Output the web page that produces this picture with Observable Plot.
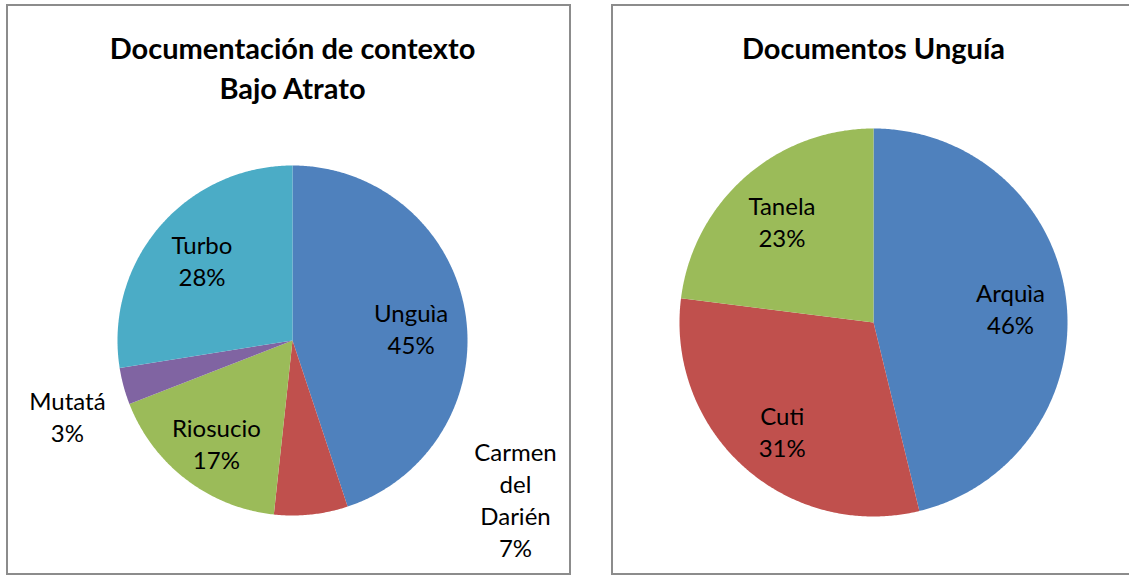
<!DOCTYPE html>
<html>
<head>
<meta charset="utf-8">
<script src="https://cdn.jsdelivr.net/npm/d3@7"></script>
<script src="https://cdn.jsdelivr.net/npm/@observablehq/plot@0.6"></script>
<style>
  html, body { margin: 0; padding: 0; background: #ffffff; }
  body { width: 1129px; height: 575px; position: relative; overflow: hidden; }
  .panel { position: absolute; box-sizing: border-box; border: 2px solid #8c8c8c; background: #ffffff; overflow: hidden; }
  .panel svg { display: block; }
</style>
</head>
<body>
<div id="left" class="panel"></div>
<div id="right" class="panel"></div>
<script>
// ---------- data ----------
const leftTitle = "Documentación de contexto\nBajo Atrato";
const leftCategories = ["Unguìa", "Carmen del Darién", "Riosucio", "Mutatá", "Turbo"];
const leftValues = [44.9, 6.8, 17.4, 3.4, 27.5];

const rightTitle = "Documentos Unguía";
const rightCategories = ["Arquìa", "Cuti", "Tanela"];
const rightValues = [46.2, 30.8, 23.0];

// ---------- styles / layout ----------
const palette = ["#4F81BD", "#C0504D", "#9BBB59", "#8064A2", "#4BACC6"];
const fontFamily = "Lato, 'Open Sans', sans-serif";
const labelSize = 24, titleSize = 29;

// label placement: [angle in degrees clockwise from 12 o'clock (null = mid-angle), radius factor]
const leftLabelPlacement = [[85.4, 0.68], [125.8, 1.571], [216, 0.74], [250.8, 1.362], [null, 0.68]];
const rightLabelPlacement = [[85.0, 0.709], [219.5, 0.74], [317.1, 0.693]];

const layouts = [
  {id: "left", box: {left: 6, top: 4, width: 565, height: 571}, cx: 292, cy: 340, r: 175,
   titleY: 68.75, title: leftTitle, categories: leftCategories, values: leftValues, placement: leftLabelPlacement},
  {id: "right", box: {left: 611, top: 4, width: 540, height: 571}, cx: 873, cy: 322, r: 194,
   titleY: 49, title: rightTitle, categories: rightCategories, values: rightValues, placement: rightLabelPlacement}
];

const border = 2;

function buildSlices(L) {
  const ox = L.box.left + border, oy = L.box.top + border;
  const cx = L.cx - ox, cy = L.cy - oy;
  const total = d3.sum(L.values);
  let acc = 0;
  const feats = [], labels = [];
  L.values.forEach((v, i) => {
    const a0 = acc / total * 2 * Math.PI;
    acc += v;
    const a1 = acc / total * 2 * Math.PI;
    const n = Math.max(2, Math.ceil((a1 - a0) / (Math.PI / 360)));
    const ring = [[cx, cy]];
    for (let k = 0; k <= n; k++) {
      const a = a0 + (a1 - a0) * k / n;
      ring.push([cx + L.r * Math.sin(a), cy - L.r * Math.cos(a)]);
    }
    ring.push([cx, cy]);
    feats.push({type: "Feature", properties: {category: L.categories[i]},
      geometry: {type: "Polygon", coordinates: [ring]}});
    const [angDeg, rf] = L.placement[i];
    const am = angDeg == null ? (a0 + a1) / 2 : angDeg * Math.PI / 180;
    const pct = Math.round(v / total * 100) + "%";
    labels.push({
      x: cx + rf * L.r * Math.sin(am),
      y: cy - rf * L.r * Math.cos(am),
      text: L.categories[i].replace(/ /g, "\n") + "\n" + pct
    });
  });
  return {feats, labels, tx: L.cx - ox, ty: L.titleY - oy};
}

layouts.forEach(L => {
  const el = document.getElementById(L.id);
  Object.assign(el.style, {left: L.box.left + "px", top: L.box.top + "px",
    width: L.box.width + "px", height: L.box.height + "px"});
  const w = L.box.width - 2 * border, h = L.box.height - 2 * border;
  const {feats, labels, tx, ty} = buildSlices(L);
  const chart = Plot.plot({
    width: w, height: h, margin: 0,
    projection: {type: "identity"},
    color: {domain: L.categories, range: palette.slice(0, L.categories.length)},
    style: {fontFamily, background: "#ffffff", color: "#000000"},
    marks: [
      Plot.geo(feats, {fill: d => d.properties.category, stroke: "none"}),
      Plot.text(labels, {x: "x", y: "y", text: "text", fontSize: labelSize, fill: "#000000", dy: -3,
        lineHeight: 32 / labelSize, textAnchor: "middle", lineAnchor: "middle", fontFamily}),
      Plot.text([L.title], {x: () => tx, y: () => ty, text: d => d, fontSize: titleSize, fontWeight: "bold",
        fill: "#000000", dy: -3, lineHeight: 39.5 / titleSize, textAnchor: "middle", lineAnchor: "middle", fontFamily})
    ]
  });
  el.appendChild(chart);
});
</script>
</body>
</html>
